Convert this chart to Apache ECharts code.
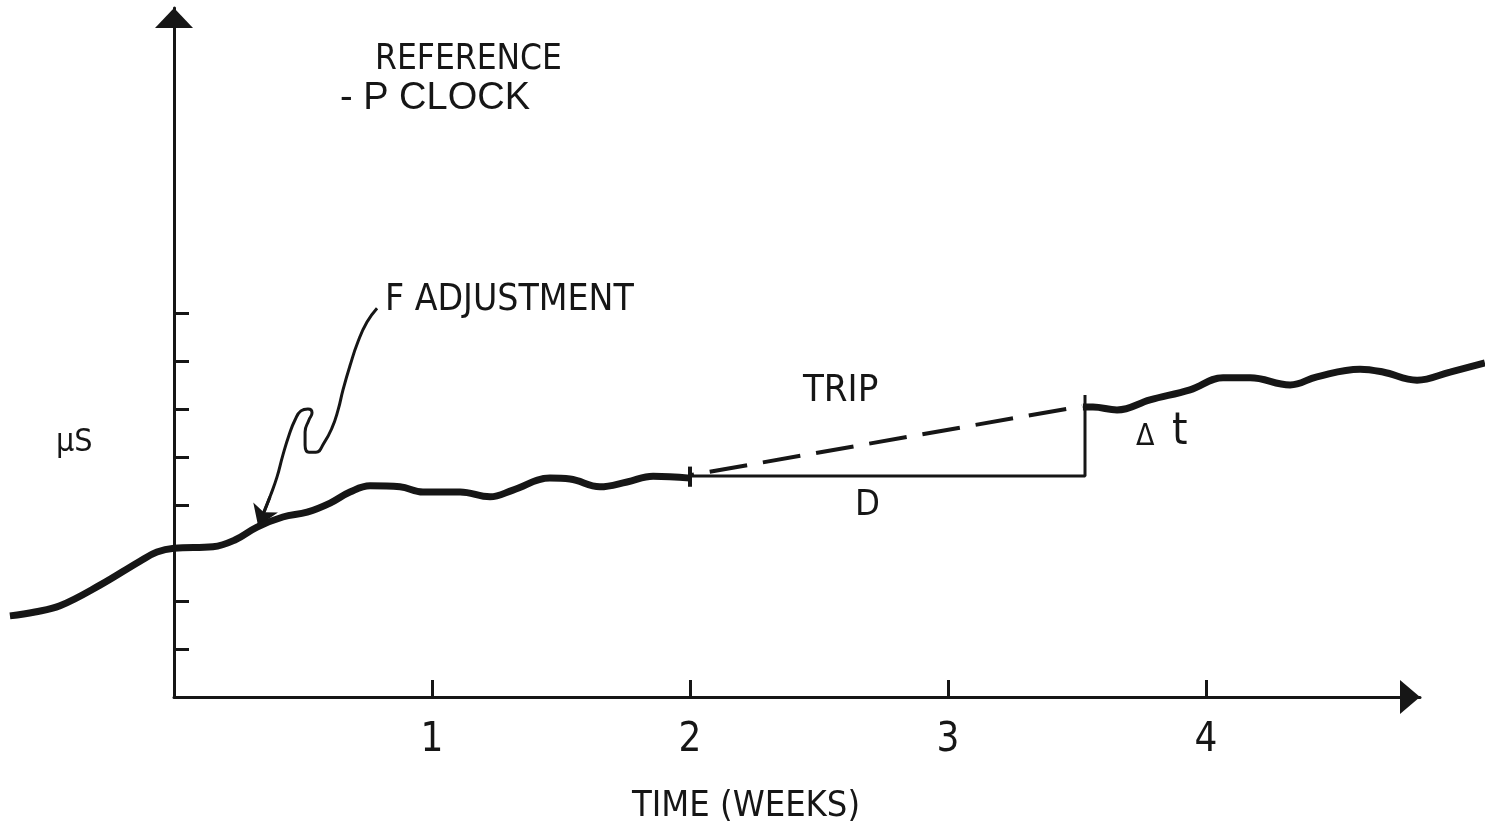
<!DOCTYPE html>
<html>
<head>
<meta charset="utf-8">
<script src="https://cdn.jsdelivr.net/npm/echarts@6/dist/echarts.min.js"></script>
<style>
html,body{margin:0;padding:0;background:#fff;}
#chart{width:1485px;height:833px;}
</style>
</head>
<body>
<div id="chart"></div>
<script>
// ---- data (x in weeks, y in tick units of the μS axis) ----
var xTickValues = [1, 2, 3, 4];
var yTickValues = [1, 2, 4, 5, 6, 7, 8];

// clock offset curve before the trip
var curveBefore = [
  [-0.636, 1.69], [-0.539, 1.77], [-0.442, 1.90], [-0.287, 2.33], [-0.132, 2.83],
  [-0.066, 3.02], [0.0, 3.10], [0.151, 3.13], [0.236, 3.27], [0.322, 3.54],
  [0.422, 3.75], [0.516, 3.85], [0.605, 4.04], [0.682, 4.27], [0.760, 4.40],
  [0.876, 4.38], [0.965, 4.27], [1.109, 4.27], [1.225, 4.17], [1.314, 4.31],
  [1.457, 4.56], [1.535, 4.54], [1.651, 4.38], [1.756, 4.48], [1.857, 4.60],
  [2.0, 4.56]
];
// clock offset curve after the trip
var curveAfter = [
  [3.523, 6.04], [3.562, 6.04], [3.655, 5.98], [3.783, 6.19], [3.938, 6.40],
  [4.066, 6.65], [4.171, 6.65], [4.326, 6.50], [4.430, 6.67], [4.597, 6.83],
  [4.686, 6.77], [4.818, 6.60], [4.946, 6.77], [5.081, 6.96]
];
// trip construction lines
var tripDashed = [[2.0, 4.62], [3.52, 6.06]];
var tripD = [[2.0, 4.604], [3.531, 4.604], [3.531, 6.29]];
var tripStartMark = [[2.0, 4.38], [2.0, 4.80]];
// "F ADJUSTMENT" pointer
var adjustPointer = [
  [0.787, 8.10], [0.748, 7.81], [0.713, 7.40], [0.682, 6.90], [0.655, 6.40],
  [0.636, 5.98], [0.612, 5.60], [0.581, 5.29], [0.550, 5.10], [0.523, 5.10],
  [0.508, 5.25], [0.508, 5.52], [0.523, 5.77], [0.535, 5.92], [0.519, 6.00],
  [0.492, 5.96], [0.469, 5.77], [0.446, 5.46], [0.422, 5.04], [0.399, 4.58],
  [0.372, 4.17], [0.349, 3.85]
];
var adjustArrowTip = [[0.372, 4.17], [0.326, 3.56]];
// axis extents
var xRangeData = [-0.6357, 5.0814];
var xRangeAxis = [0, 4.83];
var yRange = [0, 14.354];

var FONT = "'Liberation Sans Narrow','Arial Narrow','DejaVu Sans Condensed',sans-serif";
var FONT_WIDE = "'Liberation Sans',Arial,'DejaVu Sans',sans-serif";
var INK = '#161616';

function txt(text, x, y, size, font) {
  return {
    type: 'text', x: x, y: y, silent: true,
    style: { text: text, fontFamily: font || FONT, fontSize: size, fill: INK,
             textAlign: 'left', textVerticalAlign: 'middle' }
  };
}

var chart = echarts.init(document.getElementById('chart'), null, {renderer: 'canvas'});
chart.setOption({
  backgroundColor: '#ffffff',
  animation: false,
  grid: [
    { left: 10, right: 0, top: 8, bottom: 136, containLabel: false },   // data plane
    { left: 174, right: 65, top: 8, bottom: 136, containLabel: false }  // drawn axes
  ],
  xAxis: [
    { gridIndex: 0, type: 'value', min: xRangeData[0], max: xRangeData[1], show: false },
    { gridIndex: 1, type: 'value', min: xRangeAxis[0], max: xRangeAxis[1],
      axisLine: { show: true, onZero: false, lineStyle: { color: INK, width: 3 },
        symbol: ['none', 'triangle'], symbolSize: [34, 20], symbolOffset: [0, -10] },
      axisTick: { show: true, inside: true, length: 17, lineStyle: { color: INK, width: 3 },
        customValues: xTickValues },
      axisLabel: { show: true, customValues: xTickValues, fontFamily: FONT, fontSize: 40,
        color: INK, margin: 24 },
      splitLine: { show: false } }
  ],
  yAxis: [
    { gridIndex: 0, type: 'value', min: yRange[0], max: yRange[1], show: false },
    { gridIndex: 1, type: 'value', min: yRange[0], max: yRange[1],
      axisLine: { show: true, onZero: false, lineStyle: { color: INK, width: 3 },
        symbol: ['none', 'triangle'], symbolSize: [38, 20], symbolOffset: [0, -10] },
      axisTick: { show: true, inside: true, length: 15, lineStyle: { color: INK, width: 3 },
        customValues: yTickValues },
      axisLabel: { show: false },
      splitLine: { show: false } }
  ],
  series: [
    { type: 'line', xAxisIndex: 0, yAxisIndex: 0, data: curveBefore, smooth: 0.4,
      symbol: 'none', lineStyle: { color: INK, width: 7 }, z: 5 },
    { type: 'line', xAxisIndex: 0, yAxisIndex: 0, data: curveAfter, smooth: 0.4,
      symbol: 'none', lineStyle: { color: INK, width: 7 }, z: 5 },
    { type: 'line', xAxisIndex: 0, yAxisIndex: 0, data: tripDashed, symbol: 'none',
      lineStyle: { color: INK, width: 4, type: [38, 16], dashOffset: 34 } },
    { type: 'line', xAxisIndex: 0, yAxisIndex: 0, data: tripD, symbol: 'none',
      lineStyle: { color: INK, width: 3 } },
    { type: 'line', xAxisIndex: 0, yAxisIndex: 0, data: tripStartMark, symbol: 'none',
      lineStyle: { color: INK, width: 4 } },
    { type: 'line', xAxisIndex: 0, yAxisIndex: 0, data: adjustPointer, smooth: 0.5,
      symbol: 'none', lineStyle: { color: INK, width: 3 } },
    { type: 'lines', coordinateSystem: 'cartesian2d', xAxisIndex: 0, yAxisIndex: 0,
      data: [{ coords: adjustArrowTip }],
      symbol: ['none', 'arrow'], symbolSize: 20,
      lineStyle: { color: INK, width: 3, opacity: 1 } }
  ],
  graphic: [
    txt('REFERENCE', 375, 60, 35),
    txt('- P CLOCK', 340, 99, 38, FONT_WIDE),
    txt('F ADJUSTMENT', 385, 300, 37),
    txt('TRIP', 803, 391, 38),
    txt('D', 855, 506, 36),
    txt('\u0394', 1136, 437, 30),
    txt('t', 1172, 433, 44),
    txt('\u03bcS', 56, 443, 32),
    txt('TIME (WEEKS)', 632, 807, 36)
  ]
});
</script>
</body>
</html>
